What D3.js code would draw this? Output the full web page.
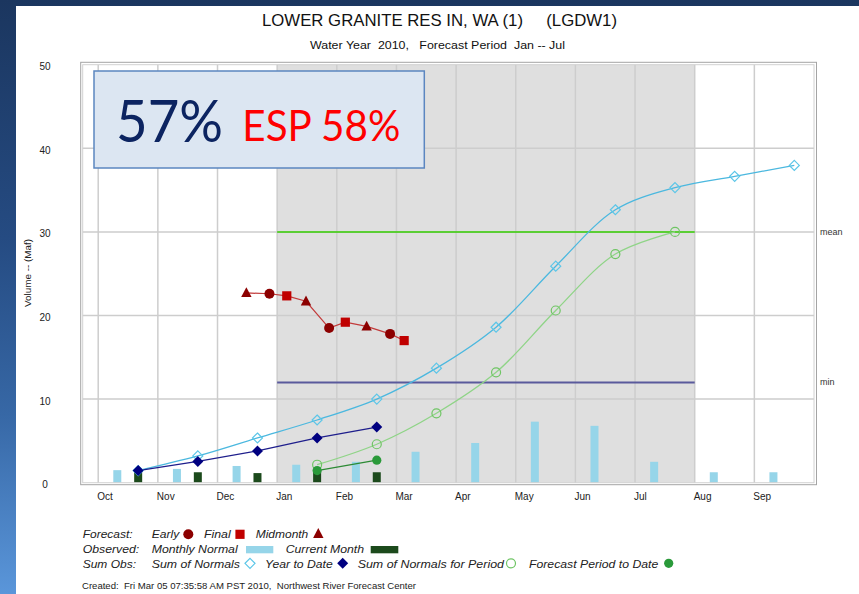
<!DOCTYPE html>
<html>
<head>
<meta charset="utf-8">
<script src="https://cdn.jsdelivr.net/npm/d3@7"></script>
<style>
  body { margin: 0; }
  svg { display: block; }
  text { font-family: "Liberation Sans", Arial, sans-serif; }
</style>
</head>
<body>
<svg id="chart" width="859" height="594"></svg>
<script>
// ---- data (volumes in Maf, water year Oct 2009 - Sep 2010) ----
const months = ['Oct', 'Nov', 'Dec', 'Jan', 'Feb', 'Mar', 'Apr', 'May', 'Jun', 'Jul', 'Aug', 'Sep'];
const yTicks = [0, 10, 20, 30, 40, 50];

const monthlyNormal = [1.5, 1.65, 2.0, 2.15, 2.5, 3.7, 4.75, 7.3, 6.8, 2.5, 1.25, 1.25];
const sumOfNormals = [1.45, 3.2, 5.35, 7.5, 10.0, 13.7, 18.6, 25.9, 32.65, 35.3, 36.65, 37.95];

const currentMonth = [1.45, 1.25, 1.15, 1.45, 1.25];          // Oct - Feb
const yearToDate = [1.45, 2.55, 3.8, 5.35, 6.65];             // Oct - Feb

const periodMonths = ['Jan', 'Feb', 'Mar', 'Apr', 'May', 'Jun', 'Jul'];
const sumNormalsForPeriod = [2.15, 4.6, 8.3, 13.2, 20.6, 27.35, 30.0];
const forecastPeriodToDate = [1.45, 2.7];                     // Jan - Feb

const meanVolume = 30.0;
const minVolume = 12.0;

const forecastDates = ['2009-12-16', '2009-12-28', '2010-01-06', '2010-01-16', '2010-01-28',
                       '2010-02-05', '2010-02-15', '2010-02-26', '2010-03-05'];
const forecastKinds = ['Midmonth', 'Early', 'Final', 'Midmonth', 'Early',
                       'Final', 'Midmonth', 'Early', 'Final'];
const forecastValues = [22.7, 22.6, 22.35, 21.7, 18.5, 19.2, 18.7, 17.8, 17.0];

const percentOfNormal = '57%';
const espText = 'ESP 58%';

// ---- layout ----
const svg = d3.select('#chart');
const W = 859, H = 594;
const plot = { left: 82.7, right: 814, top: 64.7, bottom: 482.7 };

// months are evenly spaced; position = month index (0 = Oct 1) + fraction of month
const x = d3.scaleLinear().domain([-0.26, 12]).range([plot.left, plot.right]);
const y = d3.scaleLinear().domain([0, 50]).range([plot.bottom, plot.top]);

const barOffset = 0.32, obsOffset = 0.67;
const monthIndex = m => months.indexOf(m);
function datePos(s) {
  const d = d3.timeParse('%Y-%m-%d')(s);
  const idx = (d.getFullYear() - 2009) * 12 + d.getMonth() - 9;
  const days = new Date(d.getFullYear(), d.getMonth() + 1, 0).getDate();
  return idx + (d.getDate() - 1) / days;
}

// ---- background ----
const defs = svg.append('defs');
const grad = defs.append('linearGradient').attr('id', 'bg').attr('x1', 0).attr('y1', 0).attr('x2', 0).attr('y2', 1);
[[0, '#1b365f'], [0.4, '#254b82'], [0.7, '#3768a6'], [1, '#5a96da']].forEach(([o, c]) =>
  grad.append('stop').attr('offset', o).attr('stop-color', c));
svg.append('rect').attr('width', W).attr('height', H).attr('fill', 'url(#bg)');
svg.append('rect').attr('x', 16).attr('y', 6).attr('width', W - 16).attr('height', H - 6).attr('fill', '#fff');

// ---- titles ----
svg.append('text').attr('x', 439.5).attr('y', 26).attr('text-anchor', 'middle')
  .attr('font-size', 17).attr('fill', '#111').style('white-space', 'pre')
  .attr('textLength', 355).attr('lengthAdjust', 'spacingAndGlyphs')
  .text('LOWER GRANITE RES IN, WA (1)     (LGDW1)');
svg.append('text').attr('x', 437.5).attr('y', 49.3).attr('text-anchor', 'middle')
  .attr('font-size', 11).attr('fill', '#111').style('white-space', 'pre')
  .attr('textLength', 255).attr('lengthAdjust', 'spacingAndGlyphs')
  .text('Water Year  2010,   Forecast Period  Jan -- Jul');

// ---- plot background, forecast period shading, grid ----
const g = svg.append('g');
g.append('rect').attr('x', plot.left).attr('y', plot.top)
  .attr('width', plot.right - plot.left).attr('height', plot.bottom - plot.top).attr('fill', '#fff');
g.append('rect').attr('x', x(monthIndex('Jan'))).attr('y', plot.top)
  .attr('width', x(monthIndex('Jul') + 1) - x(monthIndex('Jan'))).attr('height', plot.bottom - plot.top)
  .attr('fill', '#dfdfdf');

g.selectAll('line.vgrid').data(months).join('line').attr('class', 'vgrid')
  .attr('x1', (d, i) => x(i)).attr('x2', (d, i) => x(i))
  .attr('y1', plot.top).attr('y2', plot.bottom)
  .attr('stroke', '#cdcdcd').attr('stroke-width', 1.5);
g.selectAll('line.hgrid').data(yTicks.filter(v => v > 0 && v < 50)).join('line').attr('class', 'hgrid')
  .attr('x1', plot.left).attr('x2', plot.right)
  .attr('y1', d => y(d)).attr('y2', d => y(d))
  .attr('stroke', '#cdcdcd').attr('stroke-width', 1.5);

// ---- axes labels ----
svg.selectAll('text.ytick').data(yTicks).join('text').attr('class', 'ytick')
  .attr('x', 45).attr('y', d => y(d) + 5.5).attr('text-anchor', 'middle')
  .attr('font-size', 10).attr('fill', '#222').text(d => d);
svg.selectAll('text.xtick').data(months).join('text').attr('class', 'xtick')
  .attr('x', (d, i) => x(i) - 1).attr('y', 500).attr('font-size', 10).attr('fill', '#222').text(d => d);
svg.append('text').attr('transform', 'translate(30.5,273) rotate(-90)').attr('text-anchor', 'middle')
  .attr('font-size', 9).attr('fill', '#222').attr('textLength', 68).attr('lengthAdjust', 'spacingAndGlyphs')
  .text('Volume -- (Maf)');

// ---- bars ----
const barW = 8;
g.selectAll('rect.normal').data(monthlyNormal).join('rect').attr('class', 'normal')
  .attr('x', (d, i) => x(i + barOffset) - barW / 2).attr('width', barW)
  .attr('y', d => y(d)).attr('height', d => y(0) - y(d)).attr('fill', '#96d5e9');
g.selectAll('rect.current').data(currentMonth).join('rect').attr('class', 'current')
  .attr('x', (d, i) => x(i + obsOffset) - barW / 2).attr('width', barW)
  .attr('y', d => y(d)).attr('height', d => y(0) - y(d)).attr('fill', '#1c4a1c');

// ---- mean / min reference lines over the forecast period ----
const p0 = x(monthIndex('Jan')), p1 = x(monthIndex('Jul') + 1);
g.append('line').attr('x1', p0).attr('x2', p1).attr('y1', y(meanVolume)).attr('y2', y(meanVolume))
  .attr('stroke', '#33cc00').attr('stroke-width', 1.5);
g.append('line').attr('x1', p0).attr('x2', p1).attr('y1', y(minVolume)).attr('y2', y(minVolume))
  .attr('stroke', '#5a5a9c').attr('stroke-width', 2);
svg.append('text').attr('x', 820).attr('y', y(meanVolume) + 3).attr('font-size', 9).attr('fill', '#333').text('mean');
svg.append('text').attr('x', 820).attr('y', y(minVolume) + 3).attr('font-size', 9).attr('fill', '#333').text('min');

// ---- marker helpers ----
const diamond = s => `M0,${-s}L${s},0L0,${s}L${-s},0Z`;
const square = s => `M${-s},${-s}H${s}V${s}H${-s}Z`;
const triangle = s => `M0,${-s * 1.1}L${s},${s * 0.8}L${-s},${s * 0.8}Z`;

function series(vals, offsetIdx) {
  return vals.map((v, i) => [x(offsetIdx + i + obsOffset), y(v)]);
}
const smooth = d3.line().curve(d3.curveCatmullRom.alpha(0.5));

// sum of normals (whole water year)
const sonPts = series(sumOfNormals, 0);
g.append('path').attr('d', smooth(sonPts))
  .attr('fill', 'none').attr('stroke', '#4bb8df').attr('stroke-width', 1.3);

// sum of normals for forecast period
const snpPts = series(sumNormalsForPeriod, monthIndex(periodMonths[0]));
g.append('path').attr('d', smooth(snpPts))
  .attr('fill', 'none').attr('stroke', '#8fd487').attr('stroke-width', 1.3);

// year to date
const ytdPts = series(yearToDate, 0);
g.append('path').attr('d', d3.line()(ytdPts))
  .attr('fill', 'none').attr('stroke', '#1e1e8c').attr('stroke-width', 1.3);

// forecast period to date
const fptPts = series(forecastPeriodToDate, monthIndex('Jan'));
g.append('path').attr('d', d3.line()(fptPts))
  .attr('fill', 'none').attr('stroke', '#2c8a34').attr('stroke-width', 1.3);

// markers
g.selectAll('path.son').data(sonPts).join('path').attr('class', 'son')
  .attr('transform', d => `translate(${d})`).attr('d', diamond(5))
  .attr('fill', 'none').attr('stroke', '#5cc6e8').attr('stroke-width', 1.2);
g.selectAll('circle.snp').data(snpPts).join('circle').attr('class', 'snp')
  .attr('cx', d => d[0]).attr('cy', d => d[1]).attr('r', 4.5)
  .attr('fill', 'none').attr('stroke', '#6fc564').attr('stroke-width', 1.2);
g.selectAll('path.ytd').data(ytdPts).join('path').attr('class', 'ytd')
  .attr('transform', d => `translate(${d})`).attr('d', diamond(5.5)).attr('fill', '#000080');
g.selectAll('circle.fpt').data(fptPts).join('circle').attr('class', 'fpt')
  .attr('cx', d => d[0]).attr('cy', d => d[1]).attr('r', 4.6).attr('fill', '#2a9a3a');

// forecasts
const fcPts = forecastValues.map((v, i) => [x(datePos(forecastDates[i])), y(v), forecastKinds[i]]);
g.append('path').attr('d', d3.line()(fcPts.map(d => [d[0], d[1]])))
  .attr('fill', 'none').attr('stroke', '#c23a3a').attr('stroke-width', 1.2);
const fcStyle = {
  Final: { d: square(4.6), fill: '#c00000' },
  Midmonth: { d: triangle(5.2), fill: '#8c0000' }
};
fcPts.forEach(p => {
  if (p[2] === 'Early') {
    g.append('circle').attr('cx', p[0]).attr('cy', p[1]).attr('r', 5).attr('fill', '#8c0000');
  } else {
    g.append('path').attr('transform', `translate(${p[0]},${p[1]})`)
      .attr('d', fcStyle[p[2]].d).attr('fill', fcStyle[p[2]].fill);
  }
});

// ---- plot frame ----
svg.append('rect').attr('x', 80.7).attr('y', 62.3).attr('width', 816.5 - 80.7).attr('height', 484.7 - 62.3)
  .attr('fill', 'none').attr('stroke', '#a4a4a4').attr('stroke-width', 1);
svg.append('rect').attr('x', plot.left).attr('y', plot.top).attr('width', plot.right - plot.left)
  .attr('height', plot.bottom - plot.top).attr('fill', 'none').attr('stroke', '#d2d2d2').attr('stroke-width', 1);

// ---- percent-of-normal box ----
svg.append('rect').attr('x', 94).attr('y', 71).attr('width', 330.3).attr('height', 97)
  .attr('fill', '#dce6f2').attr('stroke', '#5b86c0').attr('stroke-width', 1.5);
svg.append('text').attr('x', 116).attr('y', 141.7).attr('font-size', 58).attr('fill', '#0c2461')
  .style('font-family', 'Lato, "Open Sans", sans-serif')
  .attr('textLength', 107).attr('lengthAdjust', 'spacingAndGlyphs').text(percentOfNormal);
svg.append('text').attr('x', 242.3).attr('y', 141).attr('font-size', 43).attr('fill', '#ff0000')
  .style('font-family', 'Lato, "Open Sans", sans-serif')
  .attr('textLength', 158).attr('lengthAdjust', 'spacingAndGlyphs').text(espText);

// ---- legend ----
const lg = svg.append('g').attr('font-size', 11.5).attr('font-style', 'italic').attr('fill', '#222');
const rows = [538.3, 553.3, 567.7];
const legendText = [
  ['Forecast:', 82.7, 132.7, 0], ['Early', 151.7, 179.3, 0], ['Final', 204, 230.7, 0], ['Midmonth', 255.7, 308.3, 0],
  ['Observed:', 82.7, 139.3, 1], ['Monthly Normal', 151.7, 237.7, 1], ['Current Month', 285.7, 364, 1],
  ['Sum Obs:', 82.7, 136, 2], ['Sum of Normals', 151.7, 240, 2], ['Year to Date', 265, 332.7, 2],
  ['Sum of Normals for Period', 357.7, 504, 2], ['Forecast Period to Date', 529, 658.3, 2]
];
legendText.forEach(([t, x0, x1, r]) => {
  lg.append('text').attr('x', x0).attr('y', rows[r])
    .attr('textLength', x1 - x0).attr('lengthAdjust', 'spacingAndGlyphs').text(t);
});
const my1 = 534.3, my3 = 563.3;
lg.append('circle').attr('cx', 188.3).attr('cy', my1).attr('r', 5).attr('fill', '#8c0000');
lg.append('path').attr('transform', `translate(240,${my1})`).attr('d', square(4.6)).attr('fill', '#c00000');
lg.append('path').attr('transform', `translate(318.3,${my1 - 0.5})`).attr('d', triangle(5.2)).attr('fill', '#8c0000');
lg.append('rect').attr('x', 246).attr('y', 546).attr('width', 27.3).attr('height', 7.3).attr('fill', '#96d5e9');
lg.append('rect').attr('x', 370.7).attr('y', 546).attr('width', 27.6).attr('height', 7.3).attr('fill', '#1c4a1c');
lg.append('path').attr('transform', `translate(250,${my3})`).attr('d', diamond(5))
  .attr('fill', 'none').attr('stroke', '#5cc6e8').attr('stroke-width', 1.2);
lg.append('path').attr('transform', `translate(342.7,${my3})`).attr('d', diamond(5.5)).attr('fill', '#000080');
lg.append('circle').attr('cx', 511).attr('cy', my3).attr('r', 4.5)
  .attr('fill', 'none').attr('stroke', '#6fc564').attr('stroke-width', 1.2);
lg.append('circle').attr('cx', 668.7).attr('cy', my3).attr('r', 4.6).attr('fill', '#2a9a3a');

svg.append('text').attr('x', 82).attr('y', 589.3).attr('font-size', 9).attr('fill', '#222')
  .style('white-space', 'pre').attr('textLength', 334).attr('lengthAdjust', 'spacingAndGlyphs')
  .text('Created:  Fri Mar 05 07:35:58 AM PST 2010,  Northwest River Forecast Center');
</script>
</body>
</html>
